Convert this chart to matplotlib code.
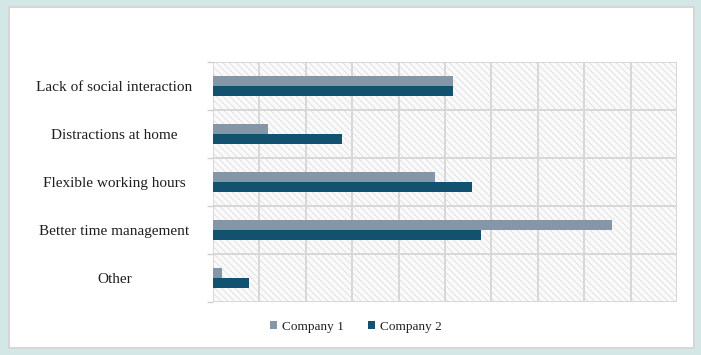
import matplotlib
matplotlib.use("Agg")
import matplotlib.pyplot as plt
from matplotlib.patches import Rectangle
import numpy as np

categories = ["Lack of social interaction", "Distractions at home",
              "Flexible working hours", "Better time management", "Other"]
company1 = [51.7, 11.9, 47.8, 86.0, 2.0]
company2 = [51.7, 27.8, 55.8, 57.8, 7.8]
series_names = ["Company 1", "Company 2"]
colors = ["#8596a9", "#12516f"]

plt.rcParams['font.family'] = ['Liberation Serif', 'DejaVu Serif']
plt.rcParams['hatch.linewidth'] = 0.6

fig = plt.figure(figsize=(7.01, 3.55), dpi=100)
fig.patch.set_facecolor("#d4e7e7")
panel = Rectangle((9/701, 1 - 348/355), 685/701, 341/355,
                  transform=fig.transFigure, facecolor="white",
                  edgecolor="#d6d6d6", linewidth=1.5, zorder=-10)
fig.patches.append(panel)

ax = fig.add_axes([213/701, 53/355, 464/701, 240/355])
ax.set_zorder(1)
ax.set_facecolor("white")
ax.add_patch(Rectangle((0, 0), 1, 1, transform=ax.transAxes,
                       facecolor="#fafafa", edgecolor="#dedede",
                       hatch="\\\\\\\\\\", linewidth=0, zorder=0))

y = np.arange(len(categories))
h = 0.21
ax.barh(y - h/2, company1, height=h, color=colors[0], label=series_names[0], zorder=3)
ax.barh(y + h/2, company2, height=h, color=colors[1], label=series_names[1], zorder=3)

ax.set_xlim(0, 100)
ax.set_ylim(len(categories) - 0.5, -0.5)
for xv in np.arange(0, 101, 10):
    ax.axvline(xv, color="#d8d8d8", linewidth=1.4, zorder=1)
for yv in np.arange(-0.5, len(categories), 1):
    ax.axhline(yv, color="#d8d8d8", linewidth=1.4, zorder=1)

ax.set_xticks([])
ax.set_yticks(y)
ax.set_yticklabels(categories, fontsize=11, color="#1e1e1e", ha="center")
ax.tick_params(axis="y", length=0, pad=98.5 * 72 / 100)
ax.set_yticks(np.arange(-0.5, len(categories), 1), minor=True)
ax.tick_params(axis="y", which="minor", length=4, color="#d0d0d0", width=1)
for s in ax.spines.values():
    s.set_visible(False)

leg = fig.legend(loc="center", bbox_to_anchor=(356/701, 1 - 327/355), ncol=2,
                 frameon=False, fontsize=9.5, handlelength=0.55, handleheight=0.55,
                 handletextpad=0.4, columnspacing=1.8)
leg.set_zorder(2)
for t in leg.get_texts():
    t.set_color("#222222")

fig.savefig("out.png", dpi=100, facecolor=fig.get_facecolor())
